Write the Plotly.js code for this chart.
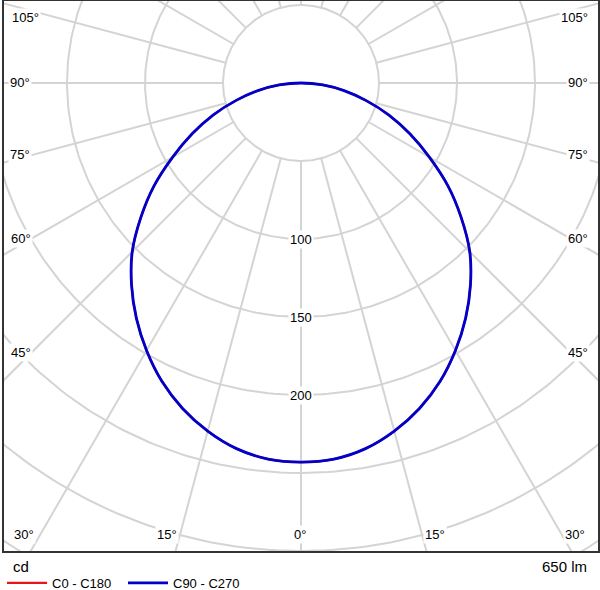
<!DOCTYPE html>
<html><head><meta charset="utf-8">
<script src="https://cdn.plot.ly/plotly-3.0.1.min.js"></script>
<style>html,body{margin:0;padding:0;background:#fff}#chart{width:600px;height:590px}</style>
</head><body><div id="chart"></div>
<script>
// ---- data ----
const gammaAngles = [0,5,10,15,20,25,30,35,40,45,50,55,60,65,70,75,80,85,90];
const c0c180 = [243,242,238,231,222,211,198,184,169,153,134,115,95,77,60,43,28,14,0];
const c90c270 = [243,242,238,231,222,211,198,184,169,153,134,115,95,77,60,43,28,14,0];
const seriesNames = ['C0 - C180','C90 - C270'];
const radialCircles = [50,100,150,200,250,300,350,400];
const rayAngles = [0,15,30,45,60,75,90,105,120,135,150,165,180];
const radialLabels = [100,150,200];
const sideLabels = ['105°','90°','75°','60°','45°','30°'];
const bottomLabels = ['15°','0°','15°'];
const unitText = 'cd';
const fluxText = '650 lm';

// ---- layout helpers (pixel geometry of frame) ----
const W=600,H=590, L=4, R=2, T=1, B=39;
const plotW=W-L-R, plotH=H-T-B;
const pxPerCd = 1.56;
const cx = 301, cy = 83;
const xr = [(L-cx)/pxPerCd, (W-R-cx)/pxPerCd];
const yr = [(cy-(H-B))/pxPerCd, (cy-T)/pxPerCd];
const px2px = (px)=> (px-L)/plotW;
const py2py = (py)=> (H-B-py)/plotH;
const rad = d=>d*Math.PI/180;

function curve(vals){
  const x=[],y=[];
  for(let i=gammaAngles.length-1;i>=0;i--){const t=rad(gammaAngles[i]);x.push(-vals[i]*Math.sin(t));y.push(-vals[i]*Math.cos(t));}
  for(let i=1;i<gammaAngles.length;i++){const t=rad(gammaAngles[i]);x.push(vals[i]*Math.sin(t));y.push(-vals[i]*Math.cos(t));}
  return {x,y};
}

// grid
const gx=[],gy=[];
radialCircles.forEach(r=>{for(let a=0;a<=360;a+=1){gx.push(r*Math.sin(rad(a)));gy.push(-r*Math.cos(rad(a)));}gx.push(null);gy.push(null);});
rayAngles.forEach(a=>{[1,-1].forEach(s=>{const t=rad(a);const r0=radialCircles[0],r1=radialCircles[radialCircles.length-1];
  gx.push(s*r0*Math.sin(t),s*r1*Math.sin(t),null);gy.push(-r0*Math.cos(t),-r1*Math.cos(t),null);});});

const cA=curve(c0c180), cB=curve(c90c270);
const traces=[
 {x:gx,y:gy,mode:'lines',line:{color:'#d4d4d4',width:2},hoverinfo:'skip',showlegend:false},
 {x:cA.x,y:cA.y,mode:'lines',name:seriesNames[0],line:{color:'#e8161b',width:2.2,shape:'spline',smoothing:1}},
 {x:cB.x,y:cB.y,mode:'lines',name:seriesNames[1],line:{color:'#0000c8',width:2.8,shape:'spline',smoothing:1}}
];

const font={family:'Arial, "Liberation Sans", sans-serif',size:13,color:'#000'};
const ann=[];
const base={showarrow:false,xanchor:'center',yanchor:'middle',bgcolor:'#fff',borderpad:1,font};
radialLabels.forEach(v=>ann.push({...base,x:0,y:-v,xref:'x',yref:'y',text:String(v)}));
const leftPos=[[25,18],[20,83],[20,154],[21,238],[21,352],[24,534]];
const rightPos=[[574,18],[578,83],[578,154],[578,238],[578,352],[575,534]];
sideLabels.forEach((t,i)=>{
  ann.push({...base,x:px2px(leftPos[i][0]),y:py2py(leftPos[i][1]),xref:'paper',yref:'paper',text:t});
  ann.push({...base,x:px2px(rightPos[i][0]),y:py2py(rightPos[i][1]),xref:'paper',yref:'paper',text:t});
});
const botPos=[[167,534],[300,534],[435,534]];
bottomLabels.forEach((t,i)=>ann.push({...base,x:px2px(botPos[i][0]),y:py2py(botPos[i][1]),xref:'paper',yref:'paper',text:t}));
ann.push({showarrow:false,x:px2px(11),y:py2py(566),xref:'paper',yref:'paper',xanchor:'left',yanchor:'middle',text:unitText,font:{...font,size:15}});
ann.push({showarrow:false,x:px2px(589),y:py2py(566),xref:'paper',yref:'paper',xanchor:'right',yanchor:'middle',text:fluxText,font:{...font,size:15}});

const axis={showgrid:false,zeroline:false,showticklabels:false,ticks:'',showline:true,mirror:true,linecolor:'#333',linewidth:2,fixedrange:true};
const layout={
  width:W,height:H,margin:{l:L,r:R,t:T,b:B,autoexpand:false},paper_bgcolor:'#fff',plot_bgcolor:'#fff',
  xaxis:{...axis,range:xr},
  yaxis:{...axis,range:yr},
  showlegend:true,
  legend:{orientation:'h',x:px2px(2),xanchor:'left',y:py2py(568),yanchor:'top',font,itemwidth:40,entrywidth:66,traceorder:'normal',bgcolor:'rgba(0,0,0,0)'},
  annotations:ann
};
Plotly.newPlot('chart',traces,layout,{staticPlot:true});
</script></body></html>
